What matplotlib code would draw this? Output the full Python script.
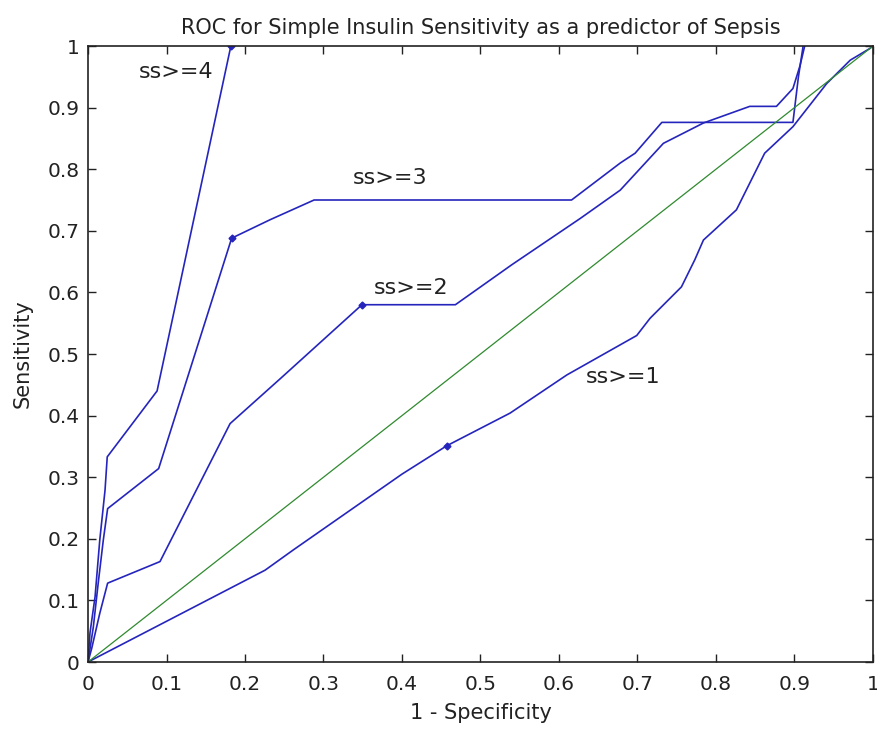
import matplotlib
matplotlib.use("Agg")
import matplotlib.pyplot as plt
from matplotlib.ticker import FixedLocator, FixedFormatter

plt.rcParams['font.family'] = ['DejaVu Sans']

# ROC curves (1 - specificity, sensitivity)
ss4_x = [0, 0.0025, 0.009, 0.015, 0.0217, 0.0245, 0.088, 0.182]
ss4_y = [0, 0.047, 0.106, 0.198, 0.279, 0.333, 0.44, 1.0]

ss3_x = [0, 0.0068, 0.013, 0.0195, 0.025, 0.090, 0.183, 0.232, 0.288, 0.616,
         0.678, 0.697, 0.731, 0.898, 0.905, 0.911]
ss3_y = [0, 0.057, 0.128, 0.198, 0.249, 0.314, 0.688, 0.718, 0.75, 0.75,
         0.81, 0.826, 0.876, 0.876, 0.95, 1.0]

ss2_x = [0, 0.0047, 0.015, 0.025, 0.0917, 0.181, 0.245, 0.349, 0.468, 0.54,
         0.627, 0.678, 0.733, 0.784, 0.843, 0.877, 0.898, 0.907, 0.913]
ss2_y = [0, 0.022, 0.079, 0.128, 0.163, 0.387, 0.46, 0.58, 0.58, 0.645,
         0.72, 0.766, 0.842, 0.875, 0.902, 0.902, 0.931, 0.968, 1.0]

ss1_x = [0, 0.2255, 0.2616, 0.40, 0.457, 0.5376, 0.61, 0.699, 0.716, 0.756,
         0.773, 0.784, 0.826, 0.862, 0.898, 0.941, 0.971, 0.996, 1.0]
ss1_y = [0, 0.149, 0.182, 0.305, 0.351, 0.404, 0.466, 0.53, 0.558, 0.609,
         0.653, 0.685, 0.734, 0.826, 0.869, 0.939, 0.977, 0.996, 1.0]

diag_x = [0, 1]
diag_y = [0, 1]

# operating points marked on each curve
mark_x = [0.182, 0.183, 0.349, 0.457]
mark_y = [1.0, 0.688, 0.58, 0.351]

labels = ["ss>=4", "ss>=3", "ss>=2", "ss>=1"]
label_x = [0.112, 0.385, 0.412, 0.682]
label_y = [0.958, 0.785, 0.607, 0.463]

ticks = [0, 0.1, 0.2, 0.3, 0.4, 0.5, 0.6, 0.7, 0.8, 0.9, 1]
tick_labels = ["0", "0.1", "0.2", "0.3", "0.4", "0.5", "0.6", "0.7", "0.8", "0.9", "1"]

blue = "#2525bd"
green = "#2f8a2f"
txt = "#222222"

fig = plt.figure(figsize=(8.78, 7.34), dpi=100)
ax = fig.add_axes([88/878, (734-662)/734, 785/878, 616/734])

for xs, ys in [(ss4_x, ss4_y), (ss3_x, ss3_y), (ss2_x, ss2_y), (ss1_x, ss1_y)]:
    ax.plot(xs, ys, color=blue, lw=1.2)
ax.plot(diag_x, diag_y, color=green, lw=0.9)
ax.plot(mark_x, mark_y, linestyle="none", marker="D", ms=3.5, color=blue)

for t, x, y in zip(labels, label_x, label_y):
    ax.text(x, y, t, fontsize=16, ha="center", va="center", color=txt)

ax.set_xlim(0, 1)
ax.set_ylim(0, 1)
ax.xaxis.set_major_locator(FixedLocator(ticks))
ax.xaxis.set_major_formatter(FixedFormatter(tick_labels))
ax.yaxis.set_major_locator(FixedLocator(ticks))
ax.yaxis.set_major_formatter(FixedFormatter(tick_labels))
ax.tick_params(direction="in", length=6, width=1, top=True, right=True,
               labelsize=14.5, pad=6, colors=txt)
ax.tick_params(axis="x", pad=9)
for s in ax.spines.values():
    s.set_linewidth(1.2)
    s.set_color(txt)

ax.set_title("ROC for Simple Insulin Sensitivity as a predictor of Sepsis",
             fontsize=15, pad=9, color=txt)
ax.set_xlabel("1 - Specificity", fontsize=15, labelpad=7, color=txt)
ax.set_ylabel("Sensitivity", fontsize=15, labelpad=11, color=txt)

fig.savefig("out.png", dpi=100, facecolor="white")
